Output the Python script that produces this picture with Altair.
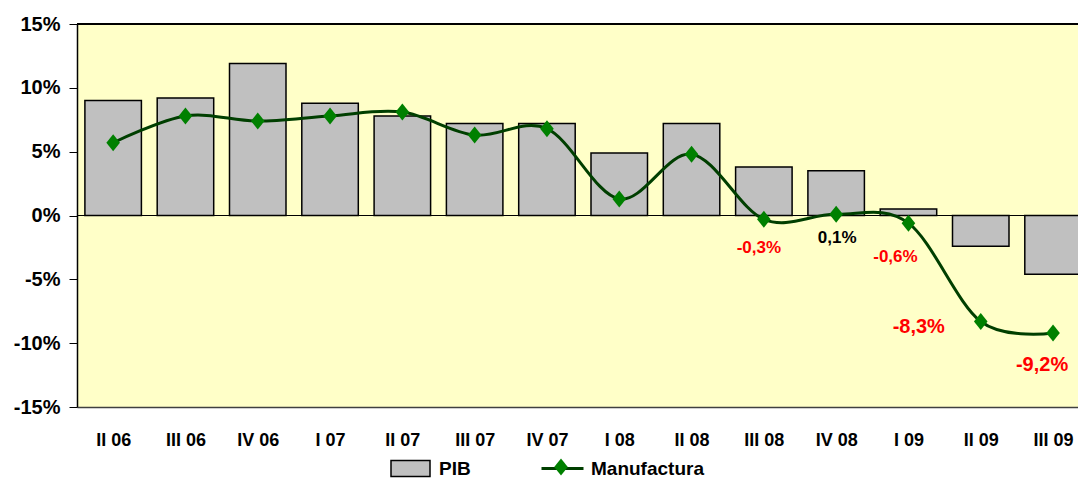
import json
import altair as alt
import pandas as pd

# ---------------- data ----------------
categories = ["II 06", "III 06", "IV 06", "I 07", "II 07", "III 07", "IV 07",
              "I 08", "II 08", "III 08", "IV 08", "I 09", "II 09", "III 09"]
pib = [9.0, 9.2, 11.9, 8.8, 7.8, 7.2, 7.2, 4.9, 7.2, 3.8, 3.5, 0.5, -2.4, -4.6]
manufactura = [5.7, 7.8, 7.4, 7.8, 8.1, 6.3, 6.8, 1.3, 4.8, -0.3, 0.1, -0.6, -8.3, -9.2]
label_cats = ["III 08", "IV 08", "I 09", "II 09", "III 09"]
label_texts = ["-0,3%", "0,1%", "-0,6%", "-8,3%", "-9,2%"]
y_ticks = [-15, -10, -5, 0, 5, 10, 15]

# ---------------- styles ----------------
FONT = "Liberation Sans"
BG = "#FFFFC8"
BAR_FILL = "#C0C0C0"
LINE_COL = "#003F00"
PT_COL = "#008000"
DIAMOND = "M0,-1L0.8,0L0,1L-0.8,0Z"
# (dx, dy, color, size) per data label
label_styles = [(-5, 29, "#FF0000", 17), (1, 24, "#000000", 17), (-13, 34, "#FF0000", 17),
                (-62, 6, "#FF0000", 20), (-11, 32, "#FF0000", 20)]

W, H = 1001, 383
BAND = 72.3

df = pd.DataFrame({"cat": categories, "idx": list(range(len(categories))),
                   "pib": pib, "manuf": manufactura})
df["serie_pib"] = "PIB"
df["serie_man"] = "Manufactura"

xscale = alt.Scale(domain=[-0.5, -0.5 + W / BAND], nice=False, zero=False, padding=0)
yscale = alt.Scale(domain=[-15, 15], nice=False, padding=0)

xaxis = alt.Axis(values=list(range(len(categories))),
                 labelExpr=json.dumps(categories) + "[datum.value]",
                 title=None, grid=False, ticks=False, tickSize=0,
                 labelPadding=24, labelFont=FONT, labelFontSize=18,
                 labelFontWeight="bold", labelColor="#000000",
                 labelFlush=False, labelOverlap=False,
                 domainColor="#404040", domainWidth=1.5)
yaxis = alt.Axis(values=y_ticks, labelExpr="datum.value + '%'", title=None,
                 grid=False, tickSize=8, tickColor="#000000", tickWidth=1,
                 domainColor="#000000", domainWidth=1.5, labelPadding=9,
                 labelFont=FONT, labelFontSize=20, labelFontWeight="bold",
                 labelColor="#000000")

X = alt.X("idx:Q", scale=xscale, axis=xaxis)

base = alt.Chart(df)

zero_rule = base.mark_rule(color="#000000", strokeWidth=1).encode(
    y=alt.Y("z:Q", scale=yscale, axis=yaxis)
).transform_calculate(z="0")

top_rule = base.mark_rule(color="#000000", strokeWidth=1.5).encode(
    y=alt.Y("t:Q", scale=yscale, axis=yaxis)
).transform_calculate(t="15")

bars = base.mark_bar(size=56.5, stroke="#000000", strokeWidth=1.5, clip=True).encode(
    x=X,
    y=alt.Y("pib:Q", scale=yscale, axis=yaxis),
    fill=alt.Fill("serie_pib:N",
                  scale=alt.Scale(domain=["PIB"], range=[BAR_FILL]),
                  legend=alt.Legend(orient="none", legendX=313, legendY=424,
                                    title=None, symbolType="M-1,-0.41H1V0.41H-1Z",
                                    symbolSize=1521, symbolStrokeColor="#000000",
                                    symbolStrokeWidth=1.5, symbolFillColor=BAR_FILL,
                                    labelFont=FONT, labelFontSize=19,
                                    labelFontWeight="bold", labelColor="#000000",
                                    labelOffset=8)),
)

line = base.mark_line(color=LINE_COL, strokeWidth=3, interpolate="cardinal").encode(
    x=X,
    y=alt.Y("manuf:Q", scale=yscale, axis=yaxis),
    stroke=alt.Stroke("serie_man:N",
                      scale=alt.Scale(domain=["Manufactura"], range=[LINE_COL]),
                      legend=alt.Legend(orient="none", legendX=463, legendY=422,
                                        title=None, symbolType="stroke",
                                        symbolSize=1764, symbolStrokeWidth=3,
                                        labelFont=FONT, labelFontSize=19,
                                        labelFontWeight="bold", labelColor="#000000",
                                        labelOffset=6)),
)

points = base.mark_point(filled=True, size=289, color=PT_COL, opacity=1).encode(
    x=X,
    y=alt.Y("manuf:Q", scale=yscale, axis=yaxis),
    shape=alt.Shape("serie_man:N",
                    scale=alt.Scale(domain=["Manufactura"], range=[DIAMOND]),
                    legend=alt.Legend(orient="none", legendX=475.5, legendY=434.5,
                                      title=None, symbolSize=289,
                                      symbolFillColor=PT_COL, symbolStrokeWidth=0,
                                      labelExpr="''", labelFontSize=1,
                                      labelOffset=0)),
)

texts = []
for cat, txt, (dx, dy, col, fs) in zip(label_cats, label_texts, label_styles):
    texts.append(
        base.transform_filter(alt.datum.cat == cat)
        .transform_calculate(lab=json.dumps(txt))
        .mark_text(dx=dx, dy=dy, color=col, fontSize=fs, font=FONT,
                   fontWeight="bold", align="center", baseline="middle")
        .encode(x=X, y=alt.Y("manuf:Q", scale=yscale, axis=yaxis),
                text="lab:N")
    )

chart = alt.layer(zero_rule, bars, line, points, *texts, top_rule).properties(
    width=W, height=H,
    autosize=alt.AutoSizeParams(type="none"),
    padding={"left": 69, "top": 16, "right": 0, "bottom": 71},
).configure_view(fill=BG, stroke="transparent").resolve_scale(
    fill="independent", stroke="independent", shape="independent")

chart.save("out.html", embed_options={"renderer": "svg", "actions": False})
